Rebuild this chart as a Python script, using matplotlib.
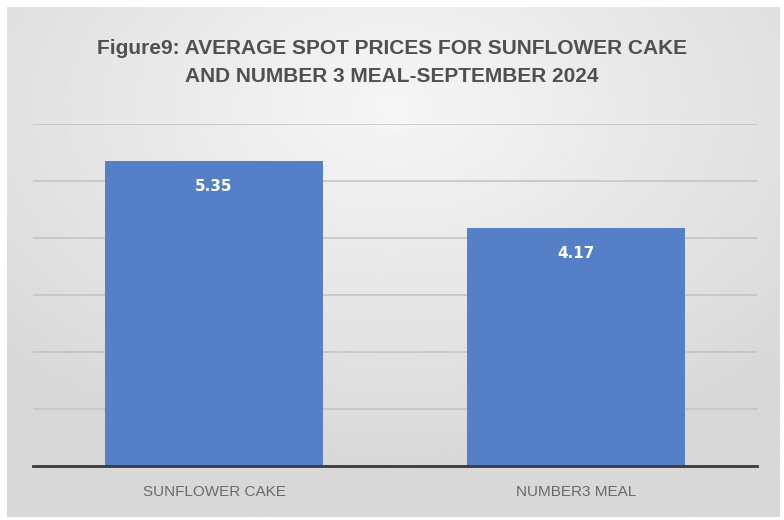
import numpy as np
import matplotlib.pyplot as plt

products = ['SUNFLOWER CAKE', 'NUMBER3 MEAL']
prices = [5.35, 4.17]
title = 'Figure9: AVERAGE SPOT PRICES FOR SUNFLOWER CAKE\nAND NUMBER 3 MEAL-SEPTEMBER 2024'

fig = plt.figure(figsize=(7.84, 5.2), dpi=100)
fig.patch.set_facecolor('white')

# gray gradient panel behind the chart, lighter near the top centre
bg = fig.add_axes([7/784, 3/520, 773/784, 510/520])
yy, xx = np.mgrid[-1:1:200j, -1:1:300j]
r = np.sqrt((xx * 0.9) ** 2 + (yy * 0.9 + 0.55) ** 2)
bg.imshow(0.965 - 0.12 * np.clip(r, 0, 1.3) / 1.3, cmap='gray', vmin=0, vmax=1,
          aspect='auto', extent=[0, 1, 0, 1])
bg.axis('off')

ax = fig.add_axes([33/784, 54/520, 724/784, 342/520])
ax.patch.set_alpha(0)
x = np.arange(len(products))
bars = ax.bar(x, prices, width=0.6, color='#5580C8', zorder=3)
ax.set_xlim(-0.5, 1.5)
ax.set_ylim(0, 6)
ax.set_yticks(np.arange(0, 7, 1))
ax.yaxis.grid(True, color='#c4c4c4', linewidth=1.2, zorder=0)
ax.tick_params(axis='y', left=False, labelleft=False)
ax.tick_params(axis='x', length=0, pad=14)
ax.set_xticks(x)
ax.set_xticklabels(products, fontsize=11, color='#6a6a6a', family='Liberation Sans')
for s in ['top', 'right', 'left']:
    ax.spines[s].set_visible(False)
ax.spines['bottom'].set_color('#3a3a3a')
ax.spines['bottom'].set_linewidth(2)
ax.spines['bottom'].set_zorder(4)

for b, v in zip(bars, prices):
    ax.annotate(f'{v:.2f}', xy=(b.get_x() + b.get_width() / 2, v), xytext=(0, -18),
                textcoords='offset points', ha='center', va='center',
                color='white', fontsize=11, fontweight='bold', zorder=5)

fig.text(0.5, 0.879, title, ha='center', va='center', fontsize=15,
         fontweight='bold', color='#505050', linespacing=1.6,
         family='Liberation Sans')

fig.savefig('out.png', dpi=100)
